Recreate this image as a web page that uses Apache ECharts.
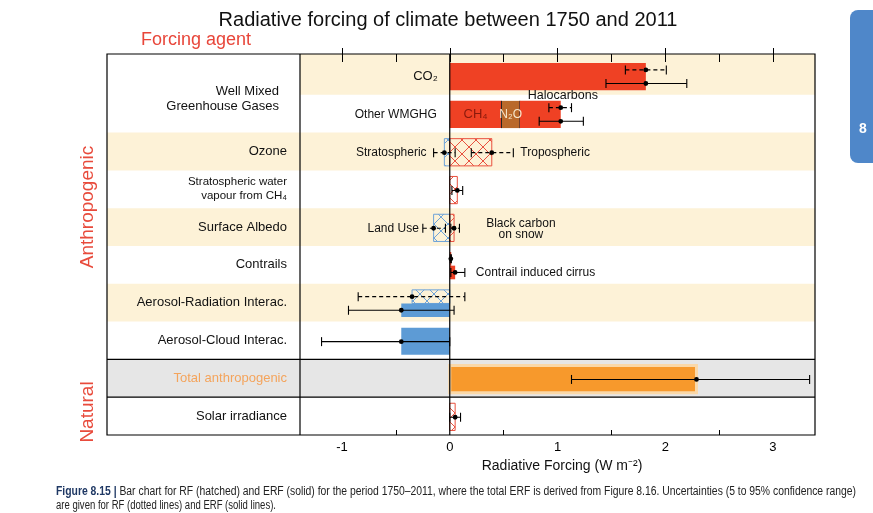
<!DOCTYPE html>
<html><head><meta charset="utf-8">
<script src="https://cdn.jsdelivr.net/npm/echarts@6/dist/echarts.min.js"></script>
<style>html,body{margin:0;padding:0;background:#fff}#c{width:873px;height:513px}</style>
</head><body><div id="c"></div>
<script>
// ---------------- data ----------------
const rowLabels = ['Well Mixed\nGreenhouse Gases', 'Ozone', 'Stratospheric water\nvapour from CH₄', 'Surface Albedo', 'Contrails', 'Aerosol-Radiation Interac.', 'Aerosol-Cloud Interac.', 'Total anthropogenic', 'Solar irradiance'];
const rowLabelPos = [1.12, 2.5, 3.5, 4.5, 5.5, 6.5, 7.5, 8.5, 9.5];
const xTickLabels = [-1, 0, 1, 2, 3];
const xMinorTicks = [-0.5, 0.5, 1.5, 2.5];

// [best estimate, low, high]  (W m-2)
const co2RF = [1.82, 1.63, 2.01];
const co2ERF = [1.82, 1.45, 2.20];
const ch4RF = 0.48;
const n2oRF = 0.17;
const halocarbonsRF = 0.38;
const otherWmghgRF = [1.03, 0.92, 1.13];
const otherWmghgERF = [1.03, 0.83, 1.24];
const ozoneStratRF = [-0.05, -0.15, 0.05];
const ozoneTropRF = [0.39, 0.20, 0.59];
const stratH2ORF = [0.07, 0.02, 0.12];
const landUseRF = [-0.15, -0.25, -0.04];
const bcSnowRF = [0.04, 0.01, 0.09];
const contrailsRF = [0.01, 0.005, 0.015];
const cirrusERF = [0.05, 0.01, 0.14];
const ariRF = [-0.35, -0.85, 0.14];
const ariERF = [-0.45, -0.94, 0.04];
const aciERF = [-0.45, -1.19, 0.0];
const totalERF = [2.29, 1.13, 3.34];
const solarRF = [0.05, 0.0, 0.10];

// ---------------- layout / styles ----------------
const FONT = 'Liberation Sans';
const X_MIN = -1.39, X_MAX = 3.39, Y_MIN = -0.08, Y_MAX = 10;
const FULL = [0.16, 0.88], UPPER = [0.16, 0.52], LOWER = [0.52, 0.88];
const E_MID = 0.53, E_UP = 0.34, E_LOW = 0.70;
const STYLES = [
  {color: '#ef4124'},                 // 0 solid red
  {color: '#b9692b'},                 // 1 N2O brown
  {color: '#e9513f', hatch: true},    // 2 hatched red
  {color: '#6fa3d8', hatch: true},    // 3 hatched blue
  {color: '#5d9bd5'},                 // 4 solid blue
  {color: '#f7992c', border: '#fad8a8', bw: 3} // 5 total orange
];
function bar(row, a, b, slot, st, div) { return [Math.min(a, b), Math.max(a, b), row, slot[0], slot[1], st, div ? 1 : 0]; }
const barData = [
  bar(0, 0, co2ERF[0], FULL, 0),
  bar(1, 0, ch4RF, FULL, 0),
  bar(1, ch4RF, ch4RF + n2oRF, FULL, 1, true),
  bar(1, ch4RF + n2oRF, ch4RF + n2oRF + halocarbonsRF, FULL, 0),
  bar(2, ozoneStratRF[0], 0, FULL, 3),
  bar(2, 0, ozoneTropRF[0], FULL, 2),
  bar(3, 0, stratH2ORF[0], FULL, 2),
  bar(4, landUseRF[0], 0, FULL, 3),
  bar(4, 0, bcSnowRF[0], FULL, 2),
  bar(5, 0, contrailsRF[0], UPPER, 0),
  bar(5, 0, cirrusERF[0], LOWER, 0),
  bar(6, ariRF[0], 0, UPPER, 3),
  bar(6, ariERF[0], 0, LOWER, 4),
  bar(7, aciERF[0], 0, FULL, 4),
  bar(8, 0, totalERF[0], FULL, 5),
  bar(9, 0, solarRF[0], FULL, 2)
];
function err(row, v, pos, dashed) { return [v[0], v[1], v[2], row + pos, dashed ? 1 : 0]; }
const errData = [
  err(0, co2RF, E_UP, true), err(0, co2ERF, E_LOW, false),
  err(1, otherWmghgRF, E_UP, true), err(1, otherWmghgERF, E_LOW, false),
  err(2, ozoneStratRF, E_MID, true), err(2, ozoneTropRF, E_MID, true),
  err(3, stratH2ORF, E_MID, true),
  err(4, landUseRF, E_MID, true), err(4, bcSnowRF, E_MID, true),
  err(5, contrailsRF, E_UP, true), err(5, cirrusERF, E_LOW, false),
  err(6, ariRF, E_UP, true), err(6, ariERF, E_LOW, false),
  err(7, aciERF, E_MID, false),
  err(8, totalERF, E_MID, false),
  err(9, solarRF, E_MID, true)
];

function hatchLines(L, T, W, H, color) {
  const P = 14, out = [];
  for (let c = Math.ceil((L - T - H) / P) * P; c <= L + W - T; c += P) {
    const xa = Math.max(L, T + c), xb = Math.min(L + W, T + H + c);
    if (xb > xa) out.push({type: 'line', shape: {x1: xa, y1: xa - c, x2: xb, y2: xb - c}, style: {stroke: color, lineWidth: 1}});
  }
  for (let c = Math.ceil((L + T) / P) * P; c <= L + W + T + H; c += P) {
    const xa = Math.max(L, c - T - H), xb = Math.min(L + W, c - T);
    if (xb > xa) out.push({type: 'line', shape: {x1: xa, y1: c - xa, x2: xb, y2: c - xb}, style: {stroke: color, lineWidth: 1}});
  }
  return out;
}
function renderBar(params, api) {
  const row = api.value(2);
  const p0 = api.coord([api.value(0), row + api.value(3)]);
  const p1 = api.coord([api.value(1), row + api.value(4)]);
  const S = STYLES[api.value(5)];
  const L = p0[0], T = p0[1], W = Math.max(p1[0] - p0[0], 1.5), H = p1[1] - p0[1];
  let children = [];
  if (S.hatch) {
    children = hatchLines(L, T, W, H, S.color);
    children.push({type: 'rect', shape: {x: L, y: T, width: W, height: H}, style: {fill: 'none', stroke: S.color, lineWidth: 1}});
  } else {
    const st = {fill: S.color};
    if (S.border) { st.stroke = S.border; st.lineWidth = S.bw; }
    children.push({type: 'rect', shape: {x: L, y: T, width: W, height: H}, style: st});
  }
  if (api.value(6) === 1) {
    children.push({type: 'line', shape: {x1: L, y1: T, x2: L, y2: T + H}, style: {stroke: '#222', lineWidth: 1}});
    children.push({type: 'line', shape: {x1: L + W, y1: T, x2: L + W, y2: T + H}, style: {stroke: '#222', lineWidth: 1}});
  }
  return {type: 'group', children};
}
function renderErr(params, api) {
  const y = api.value(3);
  const pC = api.coord([api.value(0), y]), pL = api.coord([api.value(1), y]), pH = api.coord([api.value(2), y]);
  const h = 4.5;
  const ls = {stroke: '#000', lineWidth: 1.1};
  if (api.value(4) === 1) ls.lineDash = [4, 3];
  return {type: 'group', children: [
    {type: 'line', shape: {x1: pL[0], y1: pL[1], x2: pH[0], y2: pH[1]}, style: ls},
    {type: 'line', shape: {x1: pL[0], y1: pL[1] - h, x2: pL[0], y2: pL[1] + h}, style: {stroke: '#000', lineWidth: 1.1}},
    {type: 'line', shape: {x1: pH[0], y1: pH[1] - h, x2: pH[0], y2: pH[1] + h}, style: {stroke: '#000', lineWidth: 1.1}},
    {type: 'circle', shape: {cx: pC[0], cy: pC[1], r: 2.4}, style: {fill: '#000'}}
  ]};
}

const axisBase = {type: 'value', min: X_MIN, max: X_MAX, splitLine: {show: false}, axisLine: {show: false}};
const allTicks = xTickLabels.concat(xMinorTicks).sort((a, b) => a - b);
const chart = echarts.init(document.getElementById('c'), null, {renderer: 'canvas', width: 873, height: 513});
chart.setOption({
  animation: false,
  backgroundColor: '#fff',
  textStyle: {fontFamily: FONT},
  grid: {left: 300, right: 58, top: 54, bottom: 78},
  xAxis: [
    Object.assign({}, axisBase, {position: 'bottom', axisTick: {show: true, inside: true, length: 9, customValues: xTickLabels, lineStyle: {color: '#000'}},
      axisLabel: {customValues: xTickLabels, fontSize: 13, color: '#000', margin: 6, fontFamily: FONT}}),
    Object.assign({}, axisBase, {position: 'bottom', axisTick: {show: true, inside: true, length: 5, customValues: xMinorTicks, lineStyle: {color: '#000'}},
      axisLabel: {show: false}}),
    Object.assign({}, axisBase, {position: 'top', axisTick: {show: true, inside: true, length: 8, customValues: allTicks, lineStyle: {color: '#000'}},
      axisLabel: {show: false}})
  ],
  yAxis: {
    type: 'value', min: Y_MIN, max: Y_MAX, inverse: true, z: 5,
    axisLine: {show: false}, axisTick: {show: false}, splitLine: {show: false},
    axisLabel: {
      customValues: rowLabelPos, margin: 13, fontSize: 13, color: '#111', fontFamily: FONT,
      formatter: function (v) {
        const i = rowLabelPos.findIndex(p => Math.abs(p - v) < 1e-6);
        if (i < 0) return '';
        const t = rowLabels[i];
        if (i === 0) return t.split('\n').map(s => '{w|' + s + '}').join('\n');
        if (i === 2) return t.split('\n').map(s => '{s|' + s + '}').join('\n');
        if (i === 7) return '{o|' + t + '}';
        return t;
      },
      rich: {
        w: {fontSize: 13, color: '#111', lineHeight: 15, padding: [0, 8, 0, 0], fontFamily: FONT},
        s: {fontSize: 11.5, color: '#111', lineHeight: 14, fontFamily: FONT},
        o: {fontSize: 13, color: '#f4a45c', fontFamily: FONT}
      }
    }
  },
  series: [
    {type: 'custom', renderItem: renderBar, data: barData, z: 3, silent: true},
    {type: 'custom', renderItem: renderErr, data: errData, z: 4, silent: true}
  ]
});

// ---------- decorations computed from axes ----------
const xPx = v => chart.convertToPixel({xAxisIndex: 0}, v);
const yPx = v => chart.convertToPixel({yAxisIndex: 0}, v);
const LEFT = 107, MID = xPx(X_MIN), RIGHT = xPx(X_MAX), TOP = yPx(Y_MIN), BOT = yPx(Y_MAX);
const CREAM = '#fdf2d7', GRAY = '#e6e6e6';
const g = [];
function band(x0, r0, r1, color) {
  const y0 = yPx(r0), y1 = yPx(r1);
  g.push({type: 'rect', z: -10, silent: true, shape: {x: x0, y: y0, width: RIGHT - x0, height: y1 - y0}, style: {fill: color}});
}
band(MID, Y_MIN, 1, CREAM);
band(LEFT, 2, 3, CREAM);
band(LEFT, 4, 5, CREAM);
band(LEFT, 6, 7, CREAM);
band(LEFT, 8, 9, GRAY);
const frame = {stroke: '#000', lineWidth: 1.2};
g.push({type: 'rect', z: 20, silent: true, shape: {x: LEFT, y: TOP, width: RIGHT - LEFT, height: BOT - TOP}, style: Object.assign({fill: 'none'}, frame)});
g.push({type: 'line', z: 20, silent: true, shape: {x1: MID, y1: TOP, x2: MID, y2: BOT}, style: frame});
g.push({type: 'line', z: 20, silent: true, shape: {x1: xPx(0), y1: TOP, x2: xPx(0), y2: BOT}, style: frame});
[8, 9].forEach(r => g.push({type: 'line', z: 20, silent: true, shape: {x1: LEFT, y1: yPx(r), x2: RIGHT, y2: yPx(r)}, style: frame}));

// annotations anchored to data values
const annotations = [
  {t: 'CO₂', x: 0, y: 0.52, dx: -12, align: 'right', size: 13},
  {t: 'Other WMGHG', x: 0, y: 1.53, dx: -13, align: 'right', size: 12},
  {t: 'CH₄', x: ch4RF / 2, y: 1.52, align: 'center', size: 13, color: '#8a1a0c'},
  {t: 'N₂O', x: ch4RF + n2oRF / 2, y: 1.52, align: 'center', size: 12, color: '#f7e7cc'},
  {t: 'Halocarbons', x: ch4RF + n2oRF, y: 1.02, dx: 8, align: 'left', size: 12.5},
  {t: 'Stratospheric', x: ozoneStratRF[1], y: 2.53, dx: -7, align: 'right', size: 12},
  {t: 'Tropospheric', x: ozoneTropRF[2], y: 2.53, dx: 7, align: 'left', size: 12},
  {t: 'Land Use', x: landUseRF[1], y: 4.53, dx: -4, align: 'right', size: 12},
  {t: 'Black carbon\non snow', x: 0.66, y: 4.56, align: 'center', size: 12, lh: 11.5},
  {t: 'Contrail induced cirrus', x: cirrusERF[2], y: 5.70, dx: 11, align: 'left', size: 12}
];
annotations.forEach(a => g.push({type: 'text', z: 15, silent: true, x: xPx(a.x) + (a.dx || 0), y: yPx(a.y),
  style: {text: a.t, align: a.align, verticalAlign: 'middle', fontSize: a.size, fontFamily: FONT, fill: a.color || '#111', lineHeight: a.lh || a.size + 2}}));

// titles
g.push({type: 'text', silent: true, x: 448, y: 20, style: {text: 'Radiative forcing of climate between 1750 and 2011', align: 'center', verticalAlign: 'middle', fontSize: 20, fontFamily: FONT, fill: '#111'}});
g.push({type: 'text', silent: true, x: 141, y: 40, style: {text: 'Forcing agent', align: 'left', verticalAlign: 'middle', fontSize: 18, fontFamily: FONT, fill: '#e8463a'}});
g.push({type: 'text', silent: true, x: 88, y: 207, rotation: Math.PI / 2, style: {text: 'Anthropogenic', align: 'center', verticalAlign: 'middle', fontSize: 19, fontFamily: FONT, fill: '#e84b3c'}});
g.push({type: 'text', silent: true, x: 88, y: 412, rotation: Math.PI / 2, style: {text: 'Natural', align: 'center', verticalAlign: 'middle', fontSize: 19, fontFamily: FONT, fill: '#e84b3c'}});
g.push({type: 'text', silent: true, x: 562, y: 466, style: {text: 'Radiative Forcing (W m⁻²)', align: 'center', verticalAlign: 'middle', fontSize: 14, fontFamily: FONT, fill: '#111'}});

// caption (horizontally condensed to match)
const CAP_FS = 12.5;
const cap1b = 'Figure 8.15 |';
const cap1 = ' Bar chart for RF (hatched) and ERF (solid) for the period 1750–2011, where the total ERF is derived from Figure 8.16. Uncertainties (5 to 95% confidence range)';
const cap2 = 'are given for RF (dotted lines) and ERF (solid lines).';
const ctx = document.createElement('canvas').getContext('2d');
ctx.font = 'bold ' + CAP_FS + 'px "' + FONT + '"';
const wB = ctx.measureText(cap1b).width;
ctx.font = CAP_FS + 'px "' + FONT + '"';
const wN = ctx.measureText(cap1).width;
const w2 = ctx.measureText(cap2).width;
const sx1 = 800 / (wB + wN);
const sx2 = 220 / w2;
const capRich = {b: {fontWeight: 'bold', fontSize: CAP_FS, fill: '#1f3864', fontFamily: FONT}, n: {fontSize: CAP_FS, fill: '#222', fontFamily: FONT}};
g.push({type: 'text', silent: true, x: 56, y: 492, scaleX: sx1, style: {text: '{b|' + cap1b + '}{n|' + cap1 + '}', rich: capRich, verticalAlign: 'middle', align: 'left'}});
g.push({type: 'text', silent: true, x: 56, y: 506, scaleX: sx2, style: {text: '{n|' + cap2 + '}', rich: capRich, verticalAlign: 'middle', align: 'left'}});

// chapter tab
g.push({type: 'rect', silent: true, shape: {x: 850, y: 10, width: 40, height: 153, r: 8}, style: {fill: '#4f87c9'}});
g.push({type: 'text', silent: true, x: 863, y: 129, style: {text: '8', align: 'center', verticalAlign: 'middle', fontSize: 14, fontWeight: 'bold', fontFamily: FONT, fill: '#fff'}});

chart.setOption({graphic: {elements: g}});
</script>
</body></html>
